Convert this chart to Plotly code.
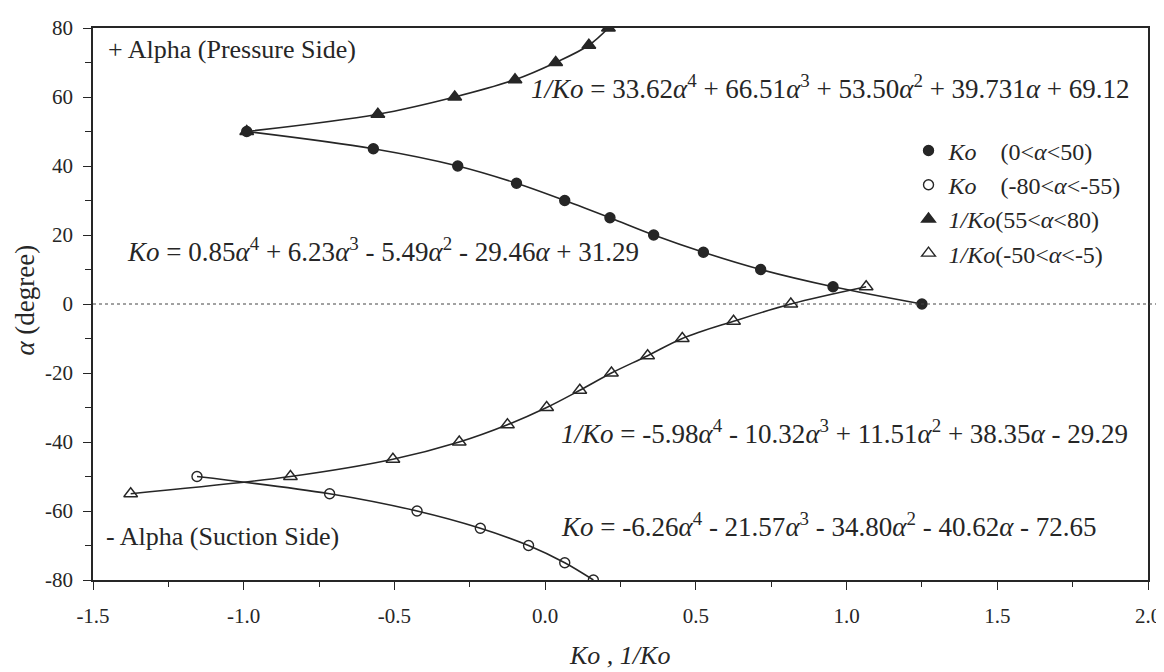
import plotly.graph_objects as go

# ---- data ----
# Ko  (0 < alpha < 50)  filled circles
ko_pos_x = [-0.99, -0.57, -0.29, -0.095, 0.065, 0.215, 0.36, 0.525, 0.715, 0.955, 1.25]
ko_pos_a = [50, 45, 40, 35, 30, 25, 20, 15, 10, 5, 0]
# 1/Ko (55 < alpha < 80)  filled triangles
inv_pos_x = [-0.99, -0.555, -0.30, -0.10, 0.035, 0.145, 0.21]
inv_pos_a = [50, 55, 60, 65, 70, 75, 80]
# Ko  (-80 < alpha < -55)  open circles
ko_neg_x = [-1.155, -0.715, -0.425, -0.215, -0.055, 0.065, 0.16]
ko_neg_a = [-50, -55, -60, -65, -70, -75, -80]
# 1/Ko (-50 < alpha < -5)  open triangles
inv_neg_x = [1.065, 0.815, 0.625, 0.455, 0.34, 0.22, 0.115, 0.005, -0.125, -0.285, -0.505, -0.845, -1.375]
inv_neg_a = [5, 0, -5, -10, -15, -20, -25, -30, -35, -40, -45, -50, -55]

x_tickvals = [-1.5, -1.0, -0.5, 0.0, 0.5, 1.0, 1.5, 2.0]
x_ticktext = ["-1.5", "-1.0", "-0.5", "0.0", "0.5", "1.0", "1.5", "2.0"]
y_tickvals = [-80, -60, -40, -20, 0, 20, 40, 60, 80]
y_ticktext = ["-80", "-60", "-40", "-20", "0", "20", "40", "60", "80"]

legend_names = [
    "<i>Ko</i>&nbsp;&nbsp;&nbsp;&nbsp;(0&lt;<i>α</i>&lt;50)",
    "<i>Ko</i>&nbsp;&nbsp;&nbsp;&nbsp;(-80&lt;<i>α</i>&lt;-55)",
    "<i>1/Ko</i>(55&lt;<i>α</i>&lt;80)",
    "<i>1/Ko</i>(-50&lt;<i>α</i>&lt;-5)",
]

eq_texts = [
    "<i>1/Ko</i> = 33.62<i>α</i><sup>4</sup> + 66.51<i>α</i><sup>3</sup> + 53.50<i>α</i><sup>2</sup> + 39.731<i>α</i> + 69.12",
    "<i>Ko</i> = 0.85<i>α</i><sup>4</sup> + 6.23<i>α</i><sup>3</sup> - 5.49<i>α</i><sup>2</sup> - 29.46<i>α</i> + 31.29",
    "<i>1/Ko</i> = -5.98<i>α</i><sup>4</sup> - 10.32<i>α</i><sup>3</sup> + 11.51<i>α</i><sup>2</sup> + 38.35<i>α</i> - 29.29",
    "<i>Ko</i> = -6.26<i>α</i><sup>4</sup> - 21.57<i>α</i><sup>3</sup> - 34.80<i>α</i><sup>2</sup> - 40.62<i>α</i> - 72.65",
]
eq_x = [-0.055, -1.395, 0.045, 0.045]
eq_a = [63.0, 15.6, -37.2, -64.0]

side_texts = ["+ Alpha (Pressure Side)", "- Alpha (Suction Side)"]
side_x = [-1.456, -1.463]
side_a = [73.8, -67.3]

x_title = "<i>Ko , 1/Ko</i>"
y_title = "<i>α</i> (degree)"

FONT = "Liberation Serif"
INK = "#262626"

fig = go.Figure()

series = [
    (ko_pos_x, ko_pos_a, "circle", 10, legend_names[0]),
    (ko_neg_x, ko_neg_a, "circle-open", 10, legend_names[1]),
    (inv_pos_x, inv_pos_a, "triangle-up", 12, legend_names[2]),
    (inv_neg_x, inv_neg_a, "triangle-up-open", 12, legend_names[3]),
]

# fitted curves (smooth lines through the points)
for xs, ys, sym, sz, name in series:
    fig.add_trace(go.Scatter(
        x=xs, y=ys, mode="lines",
        line=dict(color=INK, width=1.6, shape="spline", smoothing=1.0),
        showlegend=False, hoverinfo="skip",
    ))

# markers
for xs, ys, sym, sz, name in series:
    fig.add_trace(go.Scatter(
        x=xs, y=ys, mode="markers", name=name,
        marker=dict(symbol=sym, size=sz, color=INK,
                    line=dict(color=INK, width=1.4)),
    ))

# equations
for t, x, a in zip(eq_texts, eq_x, eq_a):
    fig.add_annotation(x=x, y=a, xref="x", yref="y", text=t, showarrow=False,
                       xanchor="left", yanchor="middle",
                       font=dict(family=FONT, size=27, color=INK))
for t, x, a in zip(side_texts, side_x, side_a):
    fig.add_annotation(x=x, y=a, xref="x", yref="y", text=t, showarrow=False,
                       xanchor="left", yanchor="middle",
                       font=dict(family=FONT, size=26, color=INK))

# axis titles
fig.add_annotation(x=0.4986, y=-0.136, xref="paper", yref="paper", text=x_title,
                   showarrow=False, xanchor="center", yanchor="middle",
                   font=dict(family=FONT, size=26, color=INK))
fig.add_annotation(x=-0.064, y=0.507, xref="paper", yref="paper", text=y_title,
                   showarrow=False, xanchor="center", yanchor="middle", textangle=-90,
                   font=dict(family=FONT, size=27, color=INK))

# dotted zero line, running slightly past the right frame
fig.add_shape(type="line", xref="paper", yref="y", x0=0, x1=1.016, y0=0, y1=0,
              line=dict(color="#444", width=1, dash="dot"))

# the page adds an 8px body margin, so the figure is sized to the remaining window
fig.update_layout(
    width=1156, height=664,
    margin=dict(l=85, r=16, t=20, b=92, autoexpand=False),
    paper_bgcolor="white", plot_bgcolor="white",
    font=dict(family=FONT, color=INK),
    showlegend=True,
    legend=dict(x=0.773, y=0.818, xanchor="left", yanchor="top",
                bgcolor="rgba(0,0,0,0)", borderwidth=0,
                font=dict(family=FONT, size=24, color=INK),
                itemwidth=30, tracegroupgap=0),
)

fig.update_xaxes(
    range=[-1.5, 2.0], tickvals=x_tickvals, ticktext=x_ticktext,
    showgrid=False, zeroline=False, automargin=False,
    showline=True, linecolor=INK, linewidth=1.5, mirror=True,
    ticks="outside", ticklen=8, tickwidth=1.3, tickcolor=INK,
    minor=dict(dtick=0.25, tick0=-1.5, ticks="outside", ticklen=5, tickwidth=1.3, tickcolor=INK, showgrid=False),
    tickfont=dict(family=FONT, size=21, color=INK),
    ticklabelstandoff=8,
)
fig.update_yaxes(
    range=[-80, 80], tickvals=y_tickvals, ticktext=y_ticktext,
    showgrid=False, zeroline=False, automargin=False,
    showline=True, linecolor=INK, linewidth=1.5, mirror=True,
    ticks="outside", ticklen=8, tickwidth=1.3, tickcolor=INK,
    minor=dict(dtick=10, tick0=0, ticks="outside", ticklen=6, tickwidth=1.3, tickcolor=INK, showgrid=False),
    tickfont=dict(family=FONT, size=21, color=INK),
    ticklabelstandoff=6,
)

fig.write_html("out.html")
